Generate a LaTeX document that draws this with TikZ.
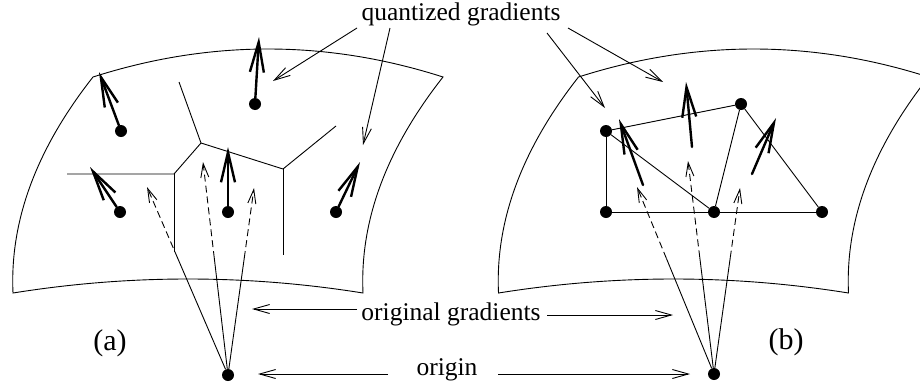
\documentclass[tikz,border=0pt]{standalone}
\usepackage{fontspec}
\setmainfont{Liberation Serif}
\usetikzlibrary{arrows.meta,calc}
\tikzset{
  thinline/.style={line width=0.9pt},
  dot/.style={circle,fill=black,inner sep=0pt,minimum size=12pt},
  grad/.style={line width=2.4pt,line cap=round,-{Straight Barb[length=30pt,width=14pt]}},
  origline/.style={line width=0.9pt},
  origdash/.style={line width=0.9pt,dash pattern=on 7pt off 4pt,-{Straight Barb[length=14pt,width=8pt]}},
  pointer/.style={line width=0.9pt,-{Straight Barb[length=16pt,width=9pt]}},
  lbl/.style={font=\fontsize{25.5}{30}\selectfont,inner sep=0pt},
  panel/.style={font=\fontsize{30}{36}\selectfont,inner sep=0pt},
}
\begin{document}
\begin{tikzpicture}[x=1pt,y=-1pt]
\useasboundingbox (0,0) rectangle (920,383);
\clip (0,0) rectangle (920,383);

% ---------- patches ----------
\draw[thinline] (93,77) .. controls (209.67,39.67) and (326.33,39.67) .. (443,77)
  .. controls (386.33,149) and (359.67,221) .. (363,293)
  .. controls (246.33,274.33) and (129.67,274.33) .. (13,293)
  .. controls (9.67,221) and (36.33,149) .. cycle;
\begin{scope}[xshift=485.5pt]
\draw[thinline] (93,77) .. controls (209.67,39.67) and (326.33,39.67) .. (443,77)
  .. controls (386.33,149) and (359.67,221) .. (363,293)
  .. controls (246.33,274.33) and (129.67,274.33) .. (13,293)
  .. controls (9.67,221) and (36.33,149) .. cycle;
\end{scope}

% ---------- panel (a) ----------
\node[dot] (d1) at (121,131) {};
\node[dot] (d2) at (255,104) {};
\node[dot] (d3) at (120,212) {};
\node[dot] (d4) at (228,212) {};
\node[dot] (d5) at (336,212) {};
\node[dot] (Oa) at (228,375) {};

% Voronoi edges
\coordinate (vA) at (201,143);
\coordinate (vB) at (174,174);
\coordinate (vC) at (283,169);
\coordinate (vA1) at (179,82);
\coordinate (vB1) at (67,174);
\coordinate (vB2) at (174,252);
\coordinate (vC1) at (336,126);
\coordinate (vC2) at (283,255);
\draw[thinline] (vA1) -- (vA) -- (vB) -- (vB1);
\draw[thinline] (vB) -- (vB2);
\draw[thinline] (vA) -- (vC) -- (vC1);
\draw[thinline] (vC) -- (vC2);

% quantized gradients (a)
\coordinate (qa1) at (99,72);
\coordinate (qa2) at (259,37);
\coordinate (qa3) at (90,167);
\coordinate (qa4) at (228,147);
\coordinate (qa5) at (360,162);
\draw[grad] (d1) -- (qa1);
\draw[grad] (d2) -- (qa2);
\draw[grad] (d3) -- (qa3);
\draw[grad] (d4) -- (qa4);
\draw[grad] (d5) -- (qa5);

% original gradients (a)
\coordinate (ta1) at (147,187);
\coordinate (ta2) at (203,162);
\coordinate (ta3) at (254,188);
\coordinate (ma1) at ($(Oa)!0.622!(ta1)$);
\coordinate (ma2) at ($(Oa)!0.549!(ta2)$);
\coordinate (ma3) at ($(Oa)!0.626!(ta3)$);
\draw[origline] (Oa) -- (ma1);
\draw[origline] (Oa) -- (ma2);
\draw[origline] (Oa) -- (ma3);
\draw[origdash] (ma1) -- (ta1);
\draw[origdash] (ma2) -- (ta2);
\draw[origdash] (ma3) -- (ta3);

% ---------- panel (b) ----------
\node[dot] (p1) at (606,131) {};
\node[dot] (p2) at (741,104) {};
\node[dot] (p3) at (606,212) {};
\node[dot] (p4) at (714,212) {};
\node[dot] (p5) at (822,212) {};
\node[dot] (Ob) at (714,374) {};

\draw[thinline] (p1) -- (p2);
\draw[thinline] (p1) -- (p3);
\draw[thinline] (p1) -- (p4);
\draw[thinline] (p2) -- (p4);
\draw[thinline] (p2) -- (p5);
\draw[thinline] (p3) -- (p4);
\draw[thinline] (p4) -- (p5);

% original gradients (b)
\coordinate (tb1) at (637,187);
\coordinate (tb2) at (688,161);
\coordinate (tb3) at (740,188);
\coordinate (mb1) at ($(Ob)!0.618!(tb1)$);
\coordinate (mb2) at ($(Ob)!0.548!(tb2)$);
\coordinate (mb3) at ($(Ob)!0.626!(tb3)$);
\draw[origline] (Ob) -- (mb1);
\draw[origline] (Ob) -- (mb2);
\draw[origline] (Ob) -- (mb3);
\draw[origdash] (mb1) -- (tb1);
\draw[origdash] (mb2) -- (tb2);
\draw[origdash] (mb3) -- (tb3);

% quantized gradients (b)
\coordinate (sb1) at (643,185);
\coordinate (eb1) at (619,119);
\coordinate (sb2) at (692,147);
\coordinate (eb2) at (686,82);
\coordinate (sb3) at (752,174);
\coordinate (eb3) at (776,118);
\draw[grad] (sb1) -- (eb1);
\draw[grad] (sb2) -- (eb2);
\draw[grad] (sb3) -- (eb3);

% ---------- labels ----------
\node[lbl,anchor=base] (Lq) at (461,20) {quantized gradients};
\node[lbl,anchor=base] (Lg) at (451,320) {original gradients};
\node[lbl,anchor=base] (Lo) at (447,375) {origin};
\node[panel] (La) at (110,343) {(a)};
\node[panel] (Lb) at (786,342) {(b)};

% pointers from "quantized gradients"
\coordinate (q1s) at (357,28);  \coordinate (q1e) at (273,81);
\coordinate (q2s) at (390,28);  \coordinate (q2e) at (363,145);
\coordinate (q3s) at (547,33);  \coordinate (q3e) at (605,108);
\coordinate (q4s) at (568,28);  \coordinate (q4e) at (663,82);
\draw[pointer] (q1s) -- (q1e);
\draw[pointer] (q2s) -- (q2e);
\draw[pointer] (q3s) -- (q3e);
\draw[pointer] (q4s) -- (q4e);

% pointers from "original gradients"
\coordinate (g1s) at (357,309); \coordinate (g1e) at (252,309);
\coordinate (g2s) at (547,315); \coordinate (g2e) at (673,315);
\draw[pointer] (g1s) -- (g1e);
\draw[pointer] (g2s) -- (g2e);

% pointers from "origin"
\coordinate (o1s) at (388,374); \coordinate (o1e) at (258,374);
\coordinate (o2s) at (498,374); \coordinate (o2e) at (690,374);
\draw[pointer] (o1s) -- (o1e);
\draw[pointer] (o2s) -- (o2e);
\end{tikzpicture}
\end{document}
